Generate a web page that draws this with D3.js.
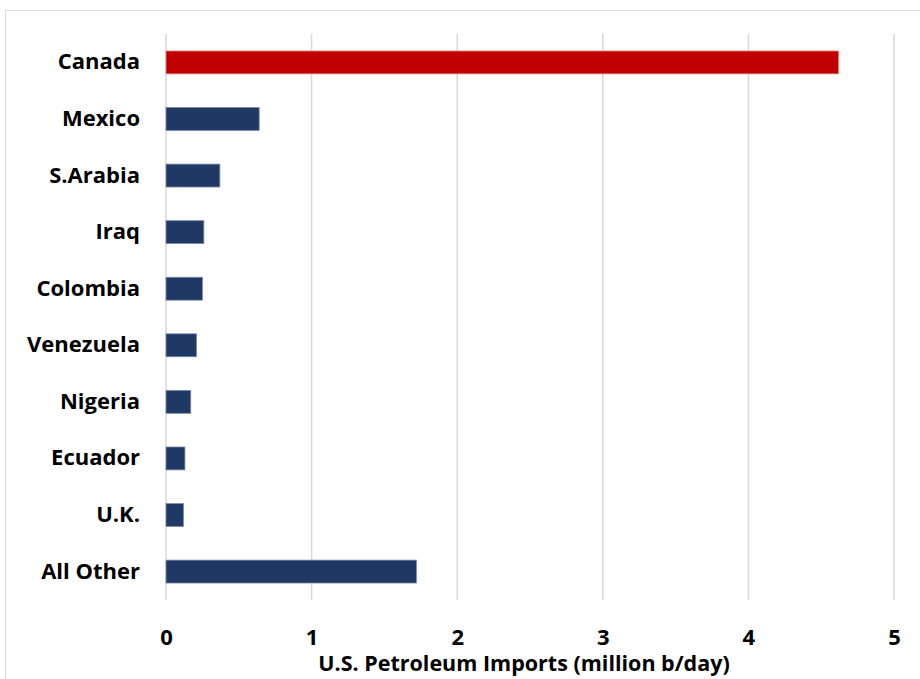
<!DOCTYPE html>
<html>
<head>
<meta charset="utf-8">
<script src="https://cdn.jsdelivr.net/npm/d3@7"></script>
<style>
  html, body { margin: 0; padding: 0; background: #fff; }
  svg { display: block; font-family: "Open Sans", Lato, sans-serif; }
</style>
</head>
<body>
<svg id="chart" width="920" height="679"></svg>
<script>
// U.S. petroleum imports by source country (million barrels per day)
const countries = ["Canada", "Mexico", "S.Arabia", "Iraq", "Colombia", "Venezuela", "Nigeria", "Ecuador", "U.K.", "All Other"];
const imports = [4.62, 0.64, 0.37, 0.26, 0.25, 0.21, 0.17, 0.13, 0.12, 1.72];
const xTicks = [0, 1, 2, 3, 4, 5];
const axisTitle = "U.S. Petroleum Imports (million b/day)";
const highlight = "Canada";

const svg = d3.select("#chart");
const margin = { left: 166, right: 26, top: 34, bottom: 79 };
const W = 920, H = 679;
const FONT = "'Open Sans', Lato, sans-serif";

// outer chart frame
svg.append("rect")
  .attr("x", 5.5).attr("y", 10.5)
  .attr("width", 930).attr("height", 700)
  .attr("fill", "none").attr("stroke", "#d9d9d9").attr("stroke-width", 1);

const x = d3.scaleLinear().domain([0, 5]).range([margin.left, W - margin.right]);
const y = d3.scaleBand().domain(countries)
  .range([margin.top, H - margin.bottom])
  .paddingInner(0.595).paddingOuter(0.3);

// vertical gridlines
svg.append("g").selectAll("line").data(xTicks).join("line")
  .attr("x1", d => x(d)).attr("x2", d => x(d))
  .attr("y1", margin.top).attr("y2", H - margin.bottom)
  .attr("stroke", "#d9d9d9").attr("stroke-width", 1.5);

// bars
const data = countries.map((c, i) => ({ c, v: imports[i] }));
svg.append("g").selectAll("rect").data(data).join("rect")
  .attr("x", x(0))
  .attr("y", d => y(d.c))
  .attr("width", d => x(d.v) - x(0))
  .attr("height", y.bandwidth())
  .attr("fill", d => d.c === highlight ? "#c00000" : "#203864")
  .attr("stroke", d => d.c === highlight ? "#e28a8a" : "#7c8bab")
  .attr("stroke-width", 0.8);

// category labels
const yAxis = d3.axisLeft(y).tickSize(0).tickPadding(26);
svg.append("g").attr("transform", `translate(${x(0)},0)`).call(yAxis)
  .call(g => g.select(".domain").remove())
  .selectAll("text")
  .attr("font-family", FONT)
  .attr("font-weight", "bold")
  .attr("font-size", 22)
  .attr("fill", "#000");

// value axis labels
const xAxis = d3.axisBottom(x).tickValues(xTicks).tickSize(0).tickPadding(0).tickFormat(d3.format("d"));
svg.append("g").attr("transform", "translate(0,629)").call(xAxis)
  .call(g => g.select(".domain").remove())
  .selectAll("text")
  .attr("font-family", FONT)
  .attr("font-weight", "bold")
  .attr("font-size", 22)
  .attr("fill", "#000");

// axis title
svg.append("text")
  .attr("x", 524).attr("y", 671)
  .attr("text-anchor", "middle")
  .attr("font-family", FONT)
  .attr("font-weight", "bold")
  .attr("font-size", 21.5)
  .attr("fill", "#000")
  .text(axisTitle);
</script>
</body>
</html>
